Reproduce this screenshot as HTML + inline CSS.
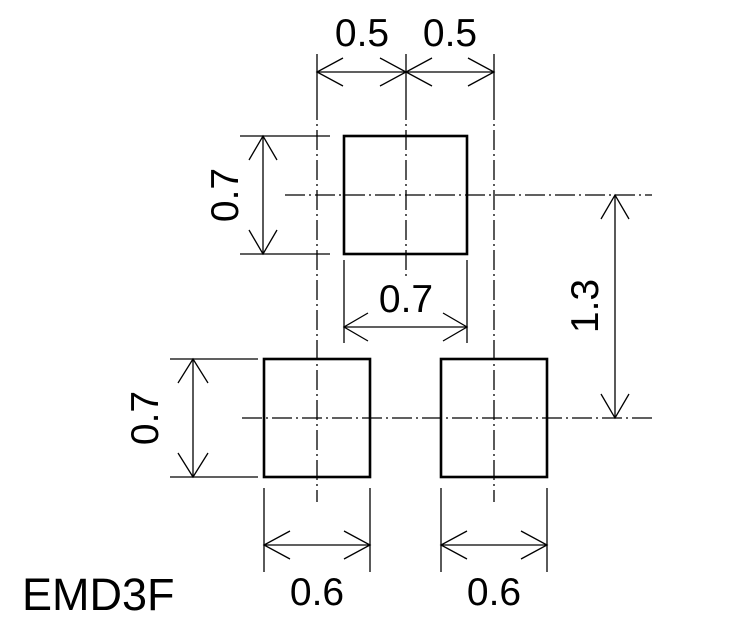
<!DOCTYPE html>
<html><head><style>body{margin:0;background:#fff}svg{display:block}</style></head>
<body>
<svg width="755" height="625" viewBox="0 0 755 625" xmlns="http://www.w3.org/2000/svg" font-family="Liberation Sans, Arial, sans-serif">
<g stroke="#000" stroke-width="1.3" fill="none">
  <g stroke-dasharray="20,4,2,4">
    <line x1="317" y1="100" x2="317" y2="502"/>
    <line x1="406" y1="100" x2="406" y2="280"/>
    <line x1="494" y1="100" x2="494" y2="502"/>
    <line x1="285" y1="195" x2="652" y2="195"/>
    <line x1="242" y1="418" x2="652" y2="418"/>
  </g>
  <line x1="317" y1="54" x2="317" y2="100"/>
  <line x1="406" y1="54" x2="406" y2="100"/>
  <line x1="494" y1="54" x2="494" y2="100"/>
  <line x1="317" y1="72" x2="494" y2="72"/>
  <polyline points="343,58 317,72 343,86"/>
  <polyline points="380,58 406,72 380,86"/>
  <polyline points="432,58 406,72 432,86"/>
  <polyline points="468,58 494,72 468,86"/>
  <line x1="240" y1="136" x2="330" y2="136"/>
  <line x1="240" y1="254" x2="330" y2="254"/>
  <line x1="263" y1="136" x2="263" y2="254"/>
  <polyline points="249,160 263,136 277,160"/>
  <polyline points="249,230 263,254 277,230"/>
  <line x1="344" y1="260" x2="344" y2="343"/>
  <line x1="467" y1="260" x2="467" y2="343"/>
  <line x1="344" y1="327" x2="467" y2="327"/>
  <polyline points="368,313 344,327 368,341"/>
  <polyline points="443,313 467,327 443,341"/>
  <line x1="615" y1="195" x2="615" y2="418"/>
  <polyline points="601,219 615,195 629,219"/>
  <polyline points="601,394 615,418 629,394"/>
  <line x1="170" y1="359" x2="258" y2="359"/>
  <line x1="170" y1="477" x2="258" y2="477"/>
  <line x1="193" y1="359" x2="193" y2="477"/>
  <polyline points="178,383 193,359 208,383"/>
  <polyline points="178,453 193,477 208,453"/>
  <line x1="264" y1="488" x2="264" y2="572"/>
  <line x1="370" y1="488" x2="370" y2="572"/>
  <line x1="264" y1="545" x2="370" y2="545"/>
  <polyline points="290,531 264,545 290,559"/>
  <polyline points="344,531 370,545 344,559"/>
  <line x1="441" y1="488" x2="441" y2="572"/>
  <line x1="547" y1="488" x2="547" y2="572"/>
  <line x1="441" y1="545" x2="547" y2="545"/>
  <polyline points="467,531 441,545 467,559"/>
  <polyline points="521,531 547,545 521,559"/>
</g>
<g stroke="#000" stroke-width="2.6" fill="none">
  <rect x="344" y="136" width="123" height="118"/>
  <rect x="264" y="359" width="106" height="118"/>
  <rect x="441" y="359" width="106" height="118"/>
</g>
<g font-size="39" fill="#000" text-anchor="middle">
  <text x="362" y="46">0.5</text>
  <text x="450" y="46">0.5</text>
  <text x="406" y="312">0.7</text>
  <text x="317" y="605">0.6</text>
  <text x="494" y="605">0.6</text>
  <text transform="translate(238,195) rotate(-90)">0.7</text>
  <text transform="translate(158,418) rotate(-90)">0.7</text>
  <text transform="translate(598,306) rotate(-90)">1.3</text>
</g>
<text x="22" y="610" font-size="45" fill="#000">EMD3F</text>
</svg>
</body></html>
